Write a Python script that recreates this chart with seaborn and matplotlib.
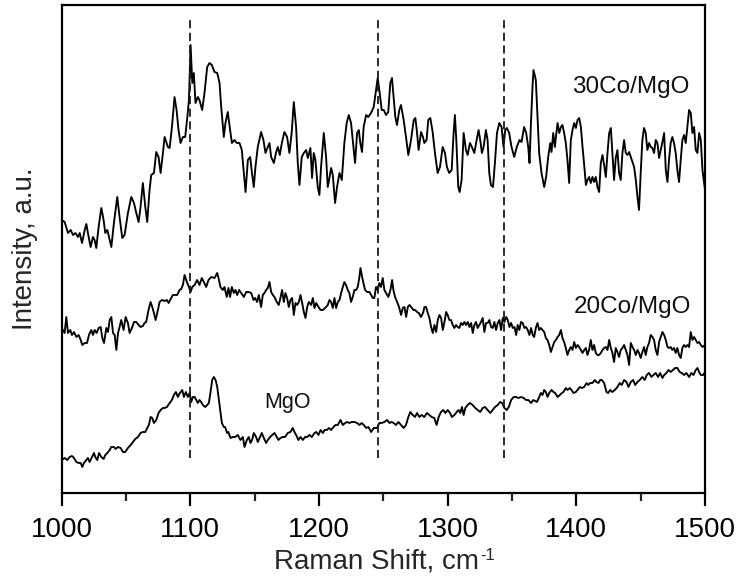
import matplotlib
matplotlib.use("Agg")
import matplotlib.pyplot as plt
from matplotlib.ticker import MultipleLocator
import pandas as pd
import seaborn as sns

# ---- data (Raman shift in cm-1, intensity in a.u.) ----
spec_30co = [
    (1000.0,270),(1002.3,268),(1004.9,257),(1007.0,260),(1008.8,255),(1010.6,257),(1012.7,253),(1014.0,257),
    (1015.8,247),(1017.9,260),(1019.2,266),(1020.4,257),(1022.5,243),(1024.3,253),(1025.6,250),(1026.9,242),
    (1028.7,263),(1030.8,282),(1032.6,270),(1033.9,257),(1035.5,260),(1037.3,250),(1038.6,243),(1040.6,267),
    (1043.2,293),(1045.0,273),(1047.1,252),(1048.9,255),(1051.5,277),(1054.1,293),(1056.2,287),(1058.0,277),
    (1059.8,268),(1061.3,283),(1063.1,307),(1065.0,283),(1066.5,268),(1068.3,300),(1069.6,315),(1071.7,317),
    (1073.5,338),(1075.3,333),(1076.9,317),(1078.7,337),(1080.0,353),(1082.6,343),(1083.9,342),(1085.7,363),
    (1087.7,393),(1089.3,380),(1090.8,360),(1092.4,347),(1094.2,353),(1096.0,353),(1097.6,372),(1098.9,390),
    (1100.2,445),(1101.5,407),(1102.7,417),(1104.0,387),(1105.8,393),(1107.1,390),(1109.2,380),(1111.0,397),
    (1113.1,423),(1114.9,427),(1116.7,425),(1118.8,418),(1120.9,417),(1122.7,407),(1124.0,383),(1126.0,353),
    (1127.3,367),(1129.1,378),(1130.9,360),(1132.3,347),(1134.3,350),(1136.1,347),(1138.2,347),(1140.0,340),
    (1141.6,317),(1142.9,298),(1144.7,330),(1146.5,333),(1147.8,318),(1149.3,303),(1150.6,323),(1152.4,343),
    (1155.0,358),(1156.8,350),(1158.4,337),(1160.2,343),(1161.5,347),(1162.8,333),(1164.9,327),(1166.7,338),
    (1168.0,343),(1169.5,335),(1171.1,347),(1173.1,358),(1175.2,353),(1177.0,337),(1178.8,358),(1180.4,388),
    (1182.2,363),(1183.5,327),(1184.8,305),(1186.6,333),(1188.2,337),(1190.0,340),(1191.3,332),(1193.3,342),
    (1194.6,312),(1195.9,337),(1197.2,330),(1199.0,303),(1200.3,295),(1201.6,323),(1203.7,357),(1205.5,333),
    (1206.8,303),(1208.1,312),(1209.4,322),(1210.7,315),(1212.5,287),(1214.0,303),(1215.9,317),(1217.7,310),
    (1219.7,347),(1221.5,367),(1223.1,375),(1224.9,367),(1227.0,340),(1228.0,327),(1229.6,357),(1230.9,360),
    (1232.1,347),(1233.4,338),(1234.7,363),(1236.6,375),(1238.3,373),(1240.4,377),(1242.5,383),(1245.6,412),
    (1246.9,400),(1248.7,380),(1250.3,380),(1252.1,375),(1253.8,378),(1255.4,407),(1256.7,412),(1258.0,393),
    (1259.3,373),(1260.6,365),(1262.4,380),(1263.7,385),(1265.8,370),(1267.6,353),(1269.4,335),(1271.5,350),
    (1273.6,370),(1274.9,372),(1276.2,357),(1277.4,340),(1279.3,358),(1280.8,353),(1281.8,347),(1283.6,350),
    (1284.9,370),(1286.5,372),(1288.3,358),(1290.1,337),(1292.2,317),(1294.0,323),(1296.1,343),(1297.9,337),
    (1299.4,323),(1301.2,317),(1303.1,320),(1304.6,357),(1305.6,375),(1306.7,350),(1308.2,303),(1309.3,298),
    (1310.8,310),(1312.4,357),(1314.2,340),(1315.5,335),(1317.3,347),(1318.8,343),(1320.7,337),(1322.5,350),
    (1324.0,360),(1325.3,350),(1326.6,337),(1327.9,343),(1329.7,360),(1331.0,350),(1332.3,317),(1333.6,305),
    (1335.2,303),(1336.7,327),(1338.3,357),(1340.1,367),(1341.9,363),(1343.4,343),(1344.7,360),(1346.0,362),
    (1347.8,357),(1349.6,343),(1351.7,333),(1353.7,343),(1355.8,350),(1357.4,348),(1359.4,363),(1361.0,357),
    (1362.6,343),(1363.6,327),(1364.6,363),(1365.9,403),(1366.7,420),(1368.5,410),(1369.8,373),(1371.1,337),
    (1372.9,317),(1375.0,303),(1376.5,313),(1378.1,333),(1379.7,347),(1380.7,338),(1382.0,357),(1383.3,343),
    (1384.1,353),(1385.4,367),(1386.7,357),(1388.0,363),(1389.2,365),(1390.5,357),(1391.8,347),(1393.1,330),
    (1394.4,307),(1395.7,350),(1397.0,360),(1398.3,367),(1399.6,362),(1400.9,370),(1402.2,372),(1403.5,363),
    (1404.8,343),(1406.1,325),(1407.4,305),(1408.6,310),(1409.9,313),(1411.2,307),(1412.5,313),(1413.8,308),
    (1415.1,313),(1416.4,303),(1417.7,298),(1419.0,327),(1420.3,335),(1421.6,325),(1422.9,313),(1424.2,337),
    (1425.5,357),(1426.8,362),(1428.0,337),(1429.3,310),(1430.6,332),(1431.9,340),(1433.2,317),(1434.5,310),
    (1435.8,337),(1437.1,350),(1438.4,337),(1439.7,335),(1441.0,338),(1442.3,333),(1443.6,328),(1444.9,323),
    (1446.2,310),(1447.5,293),(1448.7,280),(1450.0,317),(1451.3,350),(1452.6,362),(1453.9,357),(1455.2,340),
    (1456.5,347),(1457.8,343),(1459.1,342),(1460.4,337),(1461.7,350),(1463.0,347),(1464.3,332),(1465.6,340),
    (1466.9,348),(1468.2,357),(1469.5,320),(1470.8,308),(1472.0,330),(1473.3,347),(1474.6,353),(1475.9,347),
    (1477.2,337),(1478.5,320),(1479.8,308),(1481.1,330),(1482.4,350),(1483.7,355),(1485.0,347),(1486.3,363),
    (1487.6,380),(1488.9,377),(1490.2,357),(1491.5,363),(1492.8,340),(1494.1,337),(1495.4,357),(1496.7,350),
    (1498.0,320),(1500.0,300),
]

spec_20co = [
    (1000.0,162),(1002.3,157),(1003.6,173),(1004.9,157),(1006.7,160),(1008.0,155),(1009.6,158),(1011.4,153),
    (1013.2,155),(1014.8,150),(1016.0,145),(1017.9,147),(1019.7,147),(1021.2,155),(1023.0,160),(1024.3,155),
    (1025.6,160),(1027.2,157),(1028.7,162),(1030.3,163),(1031.6,152),(1032.9,147),(1034.7,162),(1036.0,158),
    (1037.3,170),(1038.6,173),(1039.9,157),(1041.2,155),(1042.5,140),(1043.8,157),(1045.0,163),(1046.3,170),
    (1048.1,160),(1049.7,173),(1051.5,167),(1052.8,157),(1054.6,162),(1056.2,168),(1058.0,168),(1059.8,165),
    (1061.3,163),(1063.1,164),(1064.4,167),(1065.7,168),(1067.5,180),(1069.1,188),(1070.4,183),(1071.7,177),
    (1073.0,170),(1074.8,180),(1076.1,188),(1077.9,190),(1080.0,189),(1081.8,190),(1083.1,187),(1085.1,192),
    (1086.4,195),(1088.3,195),(1089.8,195),(1091.6,200),(1092.9,201),(1094.2,205),(1095.5,215),(1097.3,208),
    (1098.9,203),(1100.2,198),(1101.5,203),(1103.3,205),(1105.3,210),(1107.1,205),(1108.9,212),(1110.5,208),
    (1112.3,203),(1114.1,210),(1116.2,213),(1118.8,212),(1120.9,217),(1121.9,212),(1123.4,203),(1125.2,200),
    (1126.5,203),(1128.3,193),(1129.6,202),(1130.9,193),(1132.2,203),(1133.8,197),(1135.1,200),(1136.4,195),
    (1137.9,200),(1139.5,197),(1141.6,193),(1143.4,198),(1145.2,198),(1147.3,197),(1149.1,190),(1150.4,192),
    (1151.9,188),(1153.2,195),(1155.0,183),(1156.3,195),(1157.6,197),(1158.9,200),(1160.2,202),(1161.5,208),
    (1162.8,198),(1164.1,195),(1165.4,193),(1167.2,188),(1168.7,185),(1170.0,192),(1171.3,200),(1172.6,188),
    (1173.9,197),(1175.2,192),(1176.5,183),(1177.8,190),(1179.1,192),(1180.4,175),(1181.7,187),(1183.0,185),
    (1184.3,188),(1185.6,195),(1186.9,187),(1188.2,178),(1189.5,172),(1190.8,183),(1192.1,188),(1193.9,185),
    (1195.2,192),(1196.5,182),(1197.8,187),(1199.6,183),(1201.2,180),(1203.0,180),(1204.8,182),(1206.8,185),
    (1208.1,190),(1209.4,188),(1210.7,182),(1212.0,192),(1213.3,182),(1214.6,188),(1215.9,190),(1217.2,197),
    (1218.5,203),(1219.7,208),(1221.0,205),(1222.3,200),(1223.6,197),(1224.9,188),(1226.2,193),(1227.5,200),
    (1228.8,200),(1230.1,203),(1231.4,213),(1232.2,222),(1233.2,215),(1234.5,207),(1235.8,200),(1237.4,198),
    (1239.2,198),(1240.5,195),(1241.8,192),(1243.0,192),(1244.3,203),(1245.6,200),(1246.9,207),(1248.2,203),
    (1249.5,212),(1250.8,200),(1252.1,197),(1253.9,193),(1255.5,200),(1256.8,210),(1257.8,200),(1259.1,193),
    (1260.7,188),(1262.2,183),(1263.8,175),(1265.1,182),(1266.4,183),(1267.7,173),(1269.0,183),(1270.3,185),
    (1271.6,183),(1273.4,180),(1274.7,180),(1276.2,178),(1277.5,177),(1279.3,173),(1281.1,178),(1281.9,183),
    (1283.2,183),(1284.5,177),(1285.8,172),(1287.1,163),(1288.4,157),(1289.7,165),(1291.0,158),(1292.3,170),
    (1293.6,175),(1294.9,172),(1296.2,160),(1297.5,168),(1298.8,178),(1300.0,175),(1301.3,170),(1302.6,170),
    (1303.9,165),(1305.2,162),(1306.5,165),(1307.8,163),(1309.1,162),(1310.4,167),(1311.7,165),(1313.0,168),
    (1314.3,165),(1315.6,168),(1316.9,163),(1318.2,167),(1319.5,157),(1320.7,165),(1322.0,168),(1323.3,162),
    (1324.6,165),(1325.9,168),(1327.2,172),(1328.5,158),(1329.8,167),(1331.1,167),(1332.4,170),(1333.7,163),
    (1335.0,162),(1336.3,168),(1337.6,160),(1338.9,167),(1340.2,170),(1341.5,160),(1342.8,172),(1344.1,168),
    (1345.4,173),(1346.7,170),(1348.0,163),(1349.3,167),(1350.6,162),(1351.9,163),(1353.2,155),(1354.4,165),
    (1355.7,160),(1357.0,168),(1358.3,167),(1359.6,162),(1360.9,163),(1362.2,160),(1363.5,155),(1364.8,162),
    (1366.1,155),(1367.2,153),(1368.5,162),(1369.8,167),(1371.1,160),(1372.4,162),(1373.7,160),(1375.0,158),
    (1376.3,152),(1377.6,150),(1378.9,145),(1380.2,138),(1381.5,143),(1382.8,148),(1384.1,150),(1385.4,153),
    (1386.7,155),(1388.0,160),(1389.2,152),(1390.5,148),(1391.8,142),(1393.1,135),(1394.4,140),(1395.7,143),
    (1397.0,140),(1398.3,148),(1399.6,142),(1400.9,145),(1402.2,143),(1403.5,140),(1404.8,137),(1406.1,140),
    (1407.4,142),(1408.6,135),(1409.9,140),(1411.2,150),(1412.5,140),(1413.8,145),(1415.1,137),(1416.4,135),
    (1417.7,135),(1419.0,137),(1420.3,140),(1421.6,142),(1422.9,143),(1424.2,140),(1425.5,150),(1426.8,142),
    (1428.0,137),(1429.3,128),(1430.6,142),(1431.9,138),(1433.2,133),(1434.5,140),(1435.8,142),(1437.1,145),
    (1438.4,140),(1439.7,135),(1441.0,125),(1442.3,147),(1443.6,143),(1444.9,140),(1446.2,135),(1447.5,140),
    (1448.7,137),(1450.0,132),(1451.3,138),(1452.6,143),(1453.9,135),(1455.2,143),(1456.5,147),(1457.8,155),
    (1459.1,153),(1460.4,150),(1461.7,140),(1463.0,135),(1464.3,148),(1465.6,153),(1466.9,158),(1468.2,155),
    (1469.5,150),(1470.8,143),(1472.0,142),(1473.3,143),(1474.6,140),(1475.9,142),(1477.2,137),(1478.5,142),
    (1479.8,135),(1481.1,132),(1482.4,142),(1483.7,145),(1485.0,143),(1486.3,145),(1487.6,143),(1488.9,158),
    (1490.2,150),(1491.5,153),(1492.8,150),(1494.1,147),(1495.4,148),(1496.7,145),(1498.0,143),(1500.0,145),
]

spec_mgo = [
    (1000.0,30),(1002.3,32),(1004.4,30),(1006.2,33),(1008.0,34),(1009.6,32),(1011.4,28),(1013.2,27),
    (1014.8,27),(1016.0,23),(1017.3,27),(1019.2,30),(1020.4,32),(1021.7,28),(1023.6,33),(1025.1,37),
    (1026.1,33),(1027.7,30),(1029.0,37),(1030.8,33),(1032.6,31),(1033.9,35),(1035.5,37),(1037.3,40),
    (1038.6,43),(1040.6,43),(1041.9,41),(1043.7,43),(1045.8,42),(1047.6,38),(1049.4,38),(1051.5,42),
    (1053.6,45),(1055.4,48),(1057.2,51),(1059.3,53),(1061.3,57),(1063.1,58),(1065.0,58),(1066.5,62),
    (1067.8,65),(1069.1,73),(1070.4,72),(1071.7,67),(1073.5,70),(1075.3,77),(1076.9,80),(1078.7,82),
    (1080.0,82),(1081.8,83),(1083.9,87),(1085.7,90),(1087.2,95),(1088.8,98),(1090.3,93),(1091.9,97),
    (1093.7,100),(1095.0,93),(1096.5,98),(1098.1,93),(1099.4,97),(1100.7,88),(1102.0,93),(1103.3,93),
    (1104.6,90),(1105.8,87),(1107.1,90),(1108.4,88),(1109.7,85),(1111.5,83),(1113.1,85),(1114.4,87),
    (1115.7,98),(1117.0,110),(1118.3,113),(1119.6,110),(1120.9,103),(1122.2,90),(1123.5,77),(1124.5,67),
    (1126.0,63),(1127.0,63),(1128.6,57),(1129.6,58),(1131.2,52),(1133.0,53),(1134.8,53),(1136.9,55),
    (1138.9,50),(1140.8,53),(1142.1,43),(1143.9,50),(1145.4,53),(1146.7,47),(1148.0,50),(1149.3,57),
    (1151.1,53),(1152.4,48),(1154.2,53),(1155.5,57),(1157.1,52),(1158.9,47),(1160.2,50),(1162.0,53),
    (1163.6,55),(1165.4,57),(1167.2,53),(1168.5,50),(1170.0,52),(1171.8,53),(1173.6,53),(1175.7,57),
    (1177.8,58),(1179.6,62),(1180.9,58),(1182.2,55),(1184.0,50),(1185.6,53),(1187.4,50),(1189.2,53),
    (1190.8,53),(1192.6,55),(1194.4,53),(1196.5,57),(1197.8,58),(1199.6,55),(1201.2,60),(1203.0,57),
    (1204.3,60),(1206.1,60),(1207.7,62),(1209.4,60),(1211.3,63),(1212.8,65),(1214.6,65),(1216.7,70),
    (1218.5,65),(1220.3,67),(1221.9,68),(1223.6,67),(1225.4,68),(1227.5,68),(1229.6,67),(1231.4,65),
    (1233.2,67),(1234.8,65),(1236.6,62),(1238.4,63),(1240.5,58),(1242.5,62),(1245.1,62),(1246.9,67),
    (1248.7,67),(1250.8,68),(1252.9,70),(1254.7,67),(1256.5,68),(1258.0,67),(1259.8,65),(1261.7,68),
    (1263.7,65),(1265.8,62),(1267.6,65),(1269.4,73),(1271.0,78),(1272.8,75),(1274.6,73),(1276.2,77),
    (1278.0,73),(1279.8,75),(1281.8,73),(1283.9,77),(1285.7,75),(1287.5,73),(1289.6,72),(1291.4,65),
    (1293.0,73),(1294.8,78),(1296.6,80),(1298.2,77),(1300.0,80),(1301.8,77),(1303.3,73),(1305.2,75),
    (1307.0,78),(1308.5,80),(1309.8,77),(1311.1,83),(1312.4,75),(1313.7,82),(1315.5,85),(1317.3,87),
    (1319.4,85),(1321.4,82),(1323.3,80),(1325.3,78),(1327.2,82),(1329.0,83),(1331.1,80),(1333.1,77),
    (1335.0,80),(1336.8,83),(1338.9,85),(1340.7,88),(1342.3,87),(1344.1,82),(1345.9,80),(1347.5,83),
    (1349.3,90),(1351.3,93),(1353.2,93),(1355.0,92),(1357.0,93),(1359.1,92),(1360.9,90),(1362.7,90),
    (1364.8,87),(1366.6,90),(1369.3,88),(1370.8,92),(1372.4,97),(1373.7,95),(1375.0,100),(1376.3,98),
    (1377.6,93),(1378.9,97),(1380.7,100),(1382.2,98),(1383.5,97),(1385.4,93),(1387.2,95),(1388.7,97),
    (1390.0,98),(1391.8,102),(1393.1,100),(1394.9,102),(1396.2,100),(1397.8,97),(1399.6,98),(1400.9,100),
    (1402.7,103),(1404.2,102),(1406.1,103),(1407.9,107),(1409.2,105),(1410.7,107),(1412.5,107),(1414.3,110),
    (1415.6,108),(1417.2,107),(1418.5,110),(1419.8,110),(1421.6,107),(1423.4,98),(1424.7,97),(1426.3,100),
    (1428.0,98),(1429.9,100),(1431.9,103),(1433.7,107),(1435.3,105),(1437.1,110),(1438.9,108),(1440.5,103),
    (1442.3,108),(1444.1,110),(1445.7,105),(1447.5,108),(1449.3,110),(1451.3,113),(1453.1,110),(1454.7,115),
    (1456.5,117),(1458.3,113),(1459.9,115),(1461.7,117),(1463.5,113),(1465.1,117),(1466.9,112),(1468.2,115),
    (1470.0,117),(1471.6,120),(1473.3,118),(1475.1,120),(1476.7,122),(1478.5,122),(1480.3,118),(1481.9,117),
    (1483.7,115),(1485.5,117),(1487.6,113),(1489.4,117),(1491.0,115),(1492.8,120),(1494.1,122),(1495.4,118),
    (1496.7,115),(1498.5,115),(1500.0,118),
]

sample_names = ["30Co/MgO", "20Co/MgO", "MgO"]
label_pos = {"30Co/MgO": (1396.7, 397), "20Co/MgO": (1398.3, 177), "MgO": (1157.6, 82)}
label_size = {"30Co/MgO": 17.5, "20Co/MgO": 17.5, "MgO": 15.5}
marker_shifts = [1100, 1246, 1344]
marker_range = (32, 472)
x_ticks = [1000, 1100, 1200, 1300, 1400, 1500]

# ---- build long table ----
frames = []
for name, spec in zip(sample_names, [spec_30co, spec_20co, spec_mgo]):
    d = pd.DataFrame(spec, columns=["shift", "intensity"])
    d["sample"] = name
    frames.append(d)
df = pd.concat(frames, ignore_index=True)

sns.set_style("ticks")
plt.rcParams["font.family"] = ["Liberation Sans", "DejaVu Sans"]

fig = plt.figure(figsize=(7.43, 5.83), dpi=100)
ax = fig.add_axes([0.083, 0.1544, 0.9489 - 0.083, 0.9914 - 0.1544])

sns.lineplot(data=df, x="shift", y="intensity", hue="sample", units="sample",
             estimator=None, palette=["black"] * 3, legend=False,
             linewidth=1.35, ax=ax)

ax.vlines(marker_shifts, marker_range[0], marker_range[1], colors="#1a1a1a",
          linestyles=(0, (4.5, 2.5)), linewidth=1.3)

for name in sample_names:
    x, y = label_pos[name]
    ax.text(x, y, name, fontsize=label_size[name], ha="left", va="baseline",
            color="#111111")

ax.set_xlim(1000, 1500)
ax.set_ylim(-3, 485)
ax.set_xticks(x_ticks)
ax.xaxis.set_minor_locator(MultipleLocator(50))
ax.set_yticks([])

for s in ax.spines.values():
    s.set_visible(True)
    s.set_linewidth(1.6)
    s.set_color("black")

ax.tick_params(axis="x", which="major", direction="out", length=9.5, width=1.6,
               labelsize=20, pad=7.5, colors="black")
ax.tick_params(axis="x", which="minor", direction="out", length=6, width=1.6)

xl = ax.set_xlabel("Raman Shift, cm", fontsize=20)
ax.set_ylabel("Intensity, a.u.", fontsize=20)
ax.xaxis.set_label_coords(0.489, -0.113)
ax.yaxis.set_label_coords(-0.037, 0.5)
ax.annotate("-1", xy=(1, 1), xycoords=xl, xytext=(1, 0),
            textcoords="offset points", ha="left", va="top", fontsize=12)

fig.savefig("out.png", dpi=100)
